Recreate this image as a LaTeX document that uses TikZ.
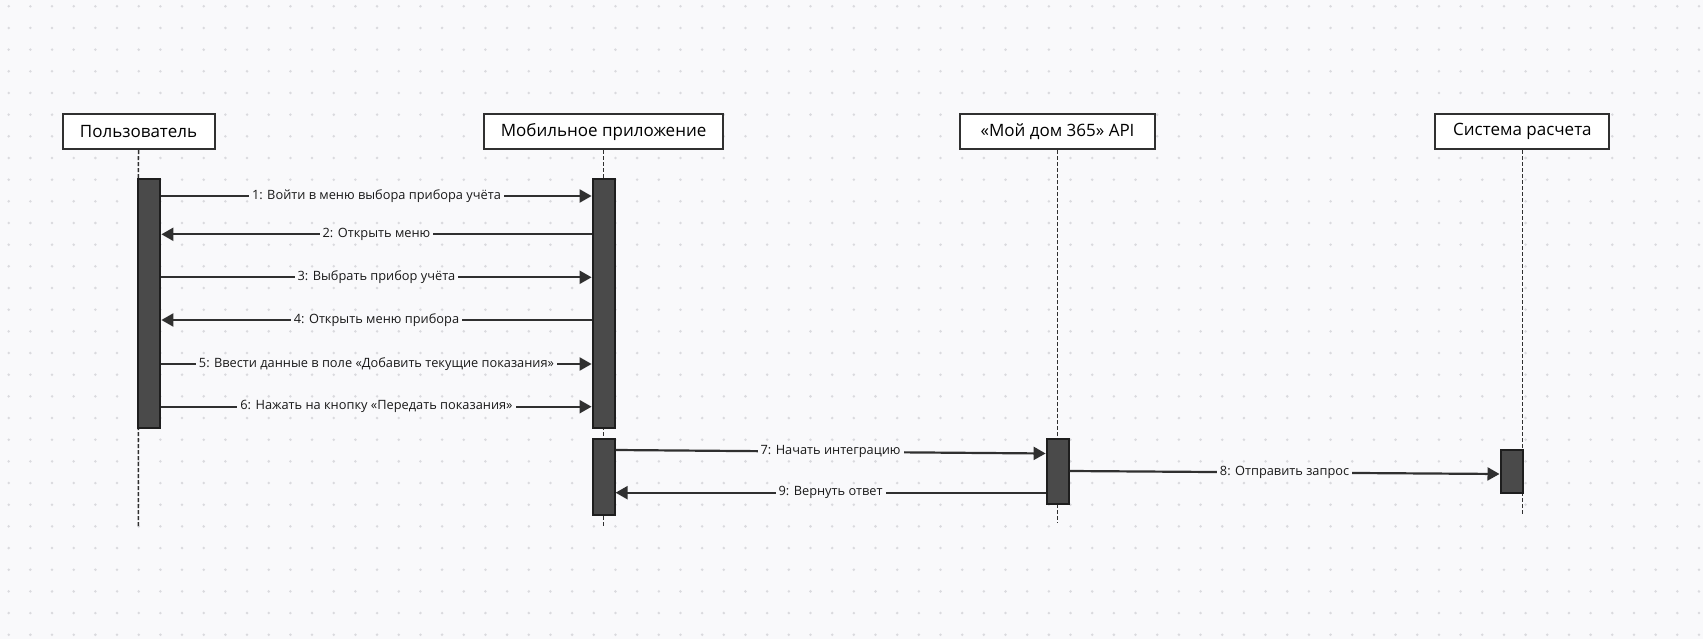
\documentclass[tikz,border=0pt]{standalone}
\usepackage{fontspec}
\setmainfont{Open Sans}
\usetikzlibrary{arrows.meta,calc}
\definecolor{bg}{HTML}{F9F9FB}
\definecolor{dotc}{HTML}{DADADE}
\definecolor{ln}{HTML}{303030}
\definecolor{barf}{HTML}{4A4A4A}
\definecolor{barb}{HTML}{1E1E1E}
\begin{document}
\begin{tikzpicture}[x=1pt,y=-1pt,
 actor/.style={draw=ln,line width=2pt,fill=white,minimum height=35pt,inner sep=0pt,font=\fontsize{17}{20}\selectfont},
 bar/.style={draw=barb,line width=2pt,fill=barf,minimum width=22pt,inner sep=0pt},
 life/.style={draw=ln,line width=1.5pt,dash pattern=on 4pt off 2pt},
 msg/.style={draw=ln,line width=2.2pt,-{Triangle[length=12pt,width=13pt]}},
 lbl/.style={fill=bg,inner xsep=3pt,inner ysep=1pt,font=\fontsize{12.8}{14}\selectfont,text=black!90}]
\fill[bg] (0,0) rectangle (1703,639);
\useasboundingbox (0,0) rectangle (1703,639);
\foreach \i in {0,...,78} {\foreach \j in {0,...,29} {\fill[dotc] (8.7+21.67*\i, 6.3+21.67*\j) circle (1.4);}}
% actors
\node[actor,minimum width=152pt] (u) at (138.5,131.7) {Пользователь};
\node[actor,minimum width=239pt] (m) at (603.6,131.7) {Мобильное приложение};
\node[actor,minimum width=195pt] (a) at (1057.5,131.7) {«Мой дом 365» API};
\node[actor,minimum width=174pt] (s) at (1522.4,131.7) {Система расчета};
% lifeline ends
\coordinate (ue) at (138.4,526);
\coordinate (me) at (603.6,526);
\coordinate (ae) at (1057.5,523);
\coordinate (se) at (1522.4,515);
\draw[life] (u.south) -- (ue);
\draw[life] (m.south) -- (me);
\draw[life] (a.south) -- (ae);
\draw[life] (s.south) -- (se);
% activation bars
\node[bar,minimum height=248.7pt] (ub) at (149.4,303.7) {};
\node[bar,minimum height=248.7pt] (mb1) at (603.6,303.7) {};
\node[bar,minimum height=76pt] (mb2) at (603.6,477) {};
\node[bar,minimum height=65.3pt] (ab) at (1057.6,471.7) {};
\node[bar,minimum height=43.6pt] (sb) at (1511.5,471.5) {};
% messages
\draw[msg] (ub.east |- 0,196) -- node[lbl]{1: Войти в меню выбора прибора учёта} (mb1.west |- 0,196);
\draw[msg] (mb1.west |- 0,234.3) -- node[lbl]{2: Открыть меню} (ub.east |- 0,234.3);
\draw[msg] (ub.east |- 0,277.3) -- node[lbl]{3: Выбрать прибор учёта} (mb1.west |- 0,277.3);
\draw[msg] (mb1.west |- 0,320) -- node[lbl]{4: Открыть меню прибора} (ub.east |- 0,320);
\draw[msg] (ub.east |- 0,364) -- node[lbl]{5: Ввести данные в поле «Добавить текущие показания»} (mb1.west |- 0,364);
\draw[msg] (ub.east |- 0,406.7) -- node[lbl]{6: Нажать на кнопку «Передать показания»} (mb1.west |- 0,406.7);
\draw[msg] (mb2.east |- 0,450) -- node[lbl]{7: Начать интеграцию} (ab.west |- 0,453.5);
\draw[msg] (ab.east |- 0,471) -- node[lbl]{8: Отправить запрос} (sb.west |- 0,474);
\draw[msg] (ab.west |- 0,492.7) -- node[lbl]{9: Вернуть ответ\hspace{3pt}} (mb2.east |- 0,492.7);
\end{tikzpicture}
\end{document}
